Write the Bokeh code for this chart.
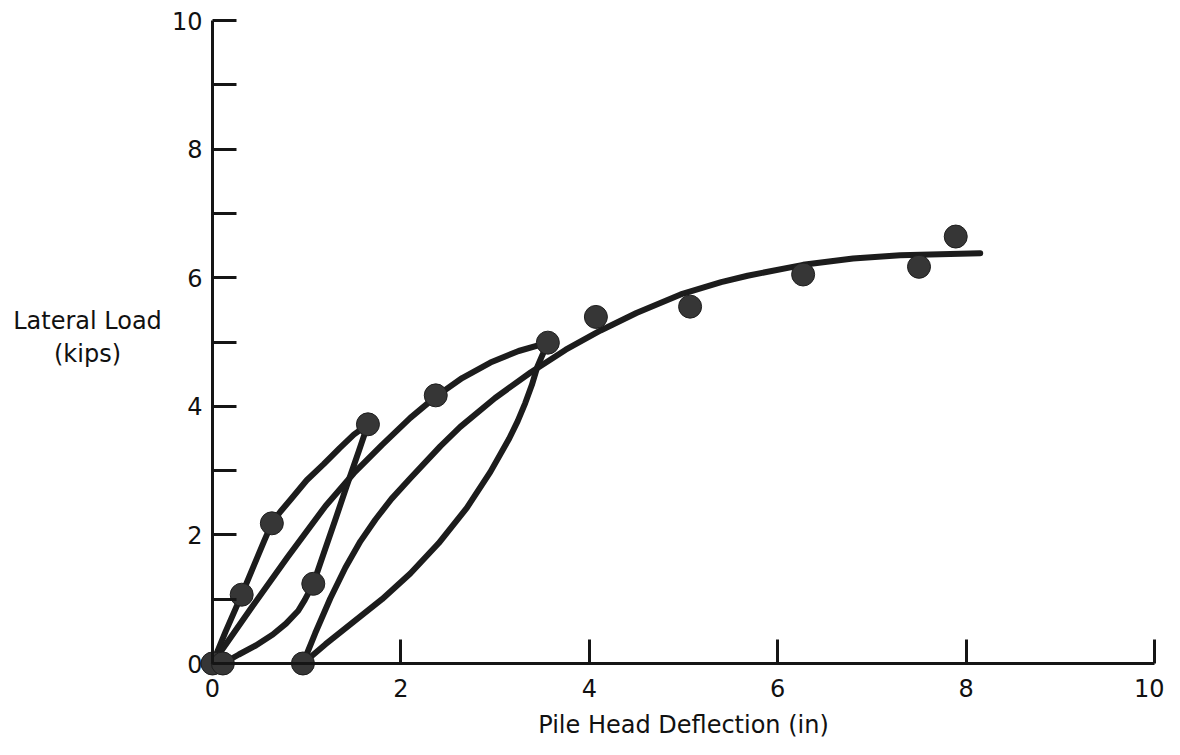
from bokeh.plotting import figure
from bokeh.models import Range1d, FixedTicker, Label
from bokeh.embed import file_html
from bokeh.resources import INLINE

# Measured data points (deflection in, load kips)
pt_x = [0.0, 0.11, 0.31, 0.63, 1.07, 0.96, 1.65, 2.37, 3.56, 4.07, 5.07, 6.27, 7.50, 7.89]
pt_y = [0.0, 0.0, 1.07, 2.18, 1.24, 0.0, 3.72, 4.17, 4.99, 5.39, 5.55, 6.05, 6.17, 6.64]

# Hand-drawn curves
# first loading
c1_x = [0.0, 0.14, 0.31, 0.47, 0.55, 0.63, 0.72, 0.83, 1.00, 1.18, 1.35, 1.50, 1.65]
c1_y = [0.0, 0.50, 1.07, 1.63, 1.91, 2.18, 2.36, 2.55, 2.85, 3.10, 3.35, 3.56, 3.72]
# first unloading
c2_x = [1.65, 1.55, 1.42, 1.30, 1.18, 1.07, 0.98, 0.91, 0.78, 0.64, 0.46, 0.28, 0.11]
c2_y = [3.72, 3.29, 2.74, 2.22, 1.71, 1.24, 0.99, 0.82, 0.62, 0.45, 0.28, 0.14, 0.0]
# second loading
c3_x = [0.0, 0.4, 0.8, 1.2, 1.5, 1.8, 2.1, 2.37, 2.65, 2.95, 3.25, 3.56]
c3_y = [0.0, 0.84, 1.66, 2.45, 2.96, 3.40, 3.82, 4.15, 4.44, 4.68, 4.86, 4.99]
# second unloading
c4_x = [3.56, 3.50, 3.45, 3.39, 3.32, 3.24, 3.15, 2.95, 2.70, 2.40, 2.10, 1.80, 1.50, 1.20, 0.96]
c4_y = [4.99, 4.79, 4.62, 4.33, 4.05, 3.77, 3.50, 2.98, 2.42, 1.87, 1.40, 1.00, 0.65, 0.30, 0.0]
# reloading and backbone
c5_x = [0.96, 1.09, 1.25, 1.41, 1.57, 1.73, 1.90, 2.10, 2.42, 2.63, 3.00, 3.38, 3.75, 4.12,
        4.50, 4.97, 5.40, 5.68, 6.27, 6.80, 7.30, 8.15]
c5_y = [0.0, 0.47, 1.01, 1.49, 1.90, 2.24, 2.56, 2.88, 3.38, 3.68, 4.13, 4.53, 4.88, 5.18,
        5.45, 5.74, 5.93, 6.03, 6.20, 6.30, 6.35, 6.38]

x_ticks = [0, 2, 4, 6, 8, 10]
y_ticks = [0, 2, 4, 6, 8, 10]
y_minor = [1, 3, 5, 7, 9]

FONT = "DejaVu Sans"
INK = "#151515"
TXT = "#111111"

W, H = 1164, 747
p = figure(frame_width=W, frame_height=H,
           x_range=Range1d(-212 / 94.2, (W - 212) / 94.2),
           y_range=Range1d((663 - H) / 64.3, 663 / 64.3),
           min_border=0, min_border_left=0, min_border_right=0,
           min_border_top=0, min_border_bottom=0,
           output_backend="svg", toolbar_location=None)
p.outline_line_color = None
p.grid.visible = False
p.background_fill_color = "white"
p.border_fill_color = "white"

curve_color = "#1c1c1c"
for cx, cy in [(c1_x, c1_y), (c2_x, c2_y), (c3_x, c3_y), (c4_x, c4_y), (c5_x, c5_y)]:
    p.line(cx, cy, line_color=curve_color, line_width=6, line_cap="round", line_join="round")

p.scatter(pt_x, pt_y, size=23, fill_color="#363636", line_color="#1e1e1e", line_width=1)

# Axes through the origin
p.xaxis.fixed_location = 0
p.yaxis.fixed_location = 0
p.xaxis.bounds = (0, 10)
p.yaxis.bounds = (0, 10)
p.xaxis.ticker = FixedTicker(ticks=x_ticks)
p.yaxis.ticker = FixedTicker(ticks=y_ticks, minor_ticks=y_minor)

for ax in (p.xaxis, p.yaxis):
    ax.axis_line_color = INK
    ax.axis_line_width = 3
    ax.major_tick_line_color = INK
    ax.major_tick_line_width = 3
    ax.major_tick_in = 24
    ax.major_tick_out = 0
    ax.major_label_text_font = FONT
    ax.major_label_text_font_size = "24px"
    ax.major_label_text_color = TXT

p.xaxis.minor_tick_line_color = None
p.yaxis.minor_tick_line_color = INK
p.yaxis.minor_tick_line_width = 3
p.yaxis.minor_tick_in = 24
p.yaxis.minor_tick_out = 0
p.xaxis.major_label_standoff = 15
p.yaxis.major_label_standoff = 10

p.xaxis.axis_label = "Pile Head Deflection (in)"
p.xaxis.axis_label_text_font = FONT
p.xaxis.axis_label_text_font_size = "24px"
p.xaxis.axis_label_text_font_style = "normal"
p.xaxis.axis_label_text_color = TXT
p.xaxis.axis_label_standoff = 11

p.add_layout(Label(x=-1.327, y=5.334, text="Lateral Load", text_align="center",
                   text_baseline="middle", text_font=FONT, text_font_size="24px",
                   text_color=TXT))
p.add_layout(Label(x=-1.327, y=4.82, text="(kips)", text_align="center",
                   text_baseline="middle", text_font=FONT, text_font_size="24px",
                   text_color=TXT))

open("out.html", "w").write(file_html(p, INLINE))
